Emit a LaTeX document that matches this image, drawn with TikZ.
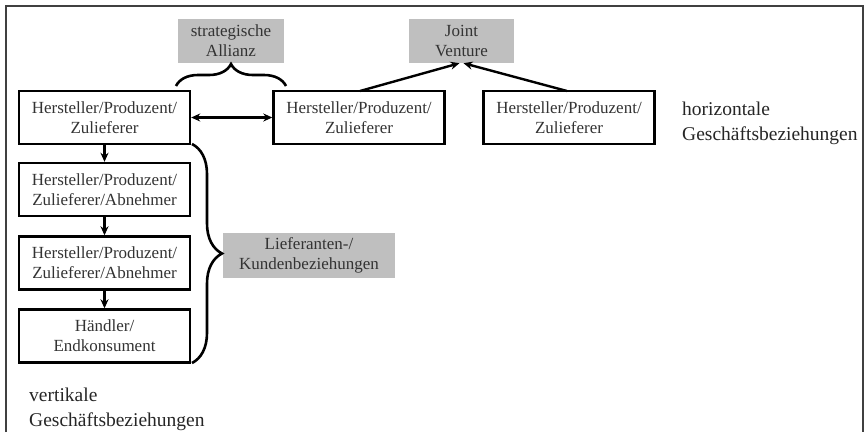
\documentclass[tikz,border=0pt]{standalone}
\usepackage{fontspec}
\setmainfont{Liberation Serif}
\usetikzlibrary{arrows.meta,decorations.pathreplacing}
\begin{document}
\begin{tikzpicture}[x=1pt,y=-1pt,
  box/.style={draw, line width=2.4pt, minimum width=171pt, minimum height=53pt, inner sep=0pt, align=center, font=\fontsize{17}{20}\selectfont, text=black!80},
  grey/.style={fill=black!25, inner sep=0pt, align=center, font=\fontsize{17}{20}\selectfont, text=black!80},
  tip/.style={Stealth[length=9pt,width=8pt]},
  arr/.style={line width=2.4pt, -{Stealth[length=9pt,width=8pt]}},
  brc/.style={line width=2.6pt, decorate, decoration={brace, amplitude=#1}},
  big/.style={anchor=west, align=left, font=\fontsize{19.5}{25}\selectfont, text=black!85, inner sep=0pt}
]
\useasboundingbox (0,0) rectangle (867,432);
\draw[line width=1.2pt, black!75] (6,432) -- (6,6) -- (863,6) -- (863,432);

\node[box] (b1) at (104.5,117.5) {Hersteller/Produzent/\\Zulieferer};
\node[box] (b2) at (359,117.5) {Hersteller/Produzent/\\Zulieferer};
\node[box] (b3) at (569,117.5) {Hersteller/Produzent/\\Zulieferer};
\node[box] (b4) at (104.5,189.5) {Hersteller/Produzent/\\Zulieferer/Abnehmer};
\node[box] (b5) at (104.5,263) {Hersteller/Produzent/\\Zulieferer/Abnehmer};
\node[box] (b6) at (104.5,336) {Händler/\\Endkonsument};

\node[grey, minimum width=106pt, minimum height=44pt] (sa) at (231,41) {strategische\\Allianz};
\node[grey, minimum width=105pt, minimum height=44pt] (jv) at (461.5,41) {Joint\\Venture};
\node[grey, minimum width=172pt, minimum height=45pt] (lk) at (309,255.5) {Lieferanten-/\\Kundenbeziehungen};

\draw[line width=2.4pt, {Stealth[length=9pt,width=8pt]}-{Stealth[length=9pt,width=8pt]}] (b1.east) -- (b2.west);
\coordinate (j1) at (360,91);
\coordinate (j3) at (567,91);
\draw[arr] (j1) -- ([xshift=-2pt]jv.south);
\draw[arr] (j3) -- ([xshift=2pt]jv.south);
\draw[arr] (b1) -- (b4);
\draw[arr] (b4) -- (b5);
\draw[arr] (b5) -- (b6);

\coordinate (sl) at (176,86);
\coordinate (sr) at (286,86);
\draw[brc=22pt] (sl) -- (sr);
\coordinate (vt) at (192,144);
\coordinate (vb) at (192,363);
\draw[brc=30pt] (vt) -- (vb);

\node[big] (hz) at (682,123) {horizontale\\Geschäftsbeziehungen};
\node[big] (vk) at (29,409) {vertikale\\Geschäftsbeziehungen};
\end{tikzpicture}
\end{document}
